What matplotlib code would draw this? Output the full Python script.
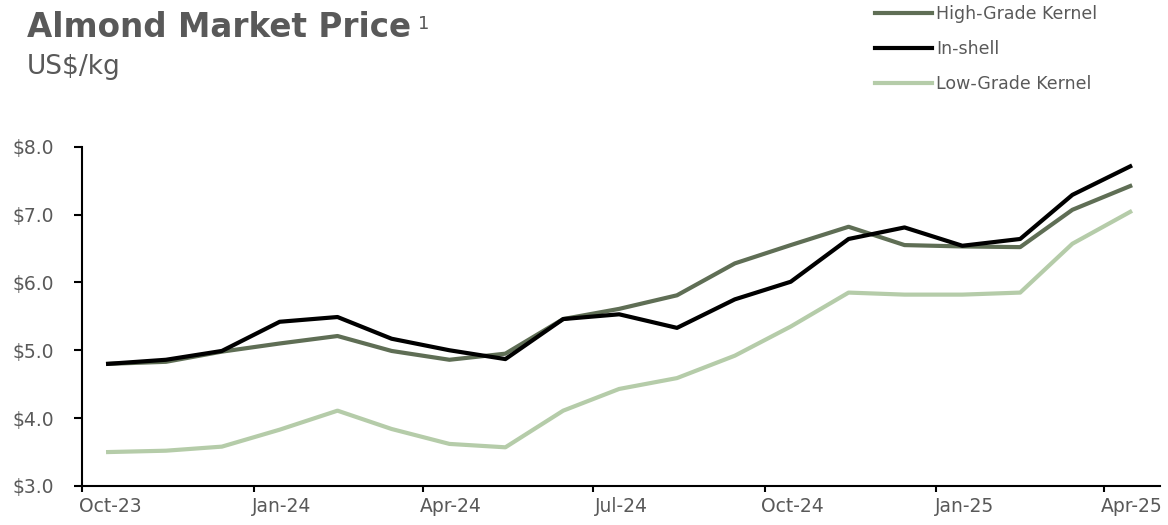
import numpy as np
import pandas as pd
import matplotlib
matplotlib.use("Agg")
import matplotlib.pyplot as plt
import matplotlib.dates as mdates
from matplotlib.ticker import FuncFormatter, NullFormatter

# 数据 (US$/kg), 月度, Oct-23 .. Apr-25
months = pd.date_range("2023-10-01", "2025-04-01", freq="MS") + pd.Timedelta(days=14)

high_grade = [4.80, 4.83, 4.98, 5.10, 5.21, 4.99, 4.86, 4.95, 5.46, 5.61,
              5.81, 6.28, 6.55, 6.82, 6.55, 6.53, 6.52, 7.07, 7.42]
in_shell = [4.80, 4.86, 4.99, 5.42, 5.49, 5.17, 5.00, 4.87, 5.46, 5.53,
            5.33, 5.75, 6.01, 6.64, 6.81, 6.54, 6.64, 7.29, 7.71]
low_grade = [3.50, 3.52, 3.58, 3.83, 4.11, 3.84, 3.62, 3.57, 4.11, 4.43,
             4.59, 4.92, 5.35, 5.85, 5.82, 5.82, 5.85, 6.57, 7.04]

series_names = ["High-Grade Kernel", "In-shell", "Low-Grade Kernel"]
colors = ["#5f6e55", "#000000", "#b5cca9"]

plt.rcParams["font.family"] = ["DejaVu Sans"]
text_grey = "#595959"

fig = plt.figure(figsize=(11.68, 5.25), dpi=100)
ax = fig.add_axes([0.0702, 0.0743, 0.923, 0.6463])

lines = []
for vals, name, c in zip([high_grade, in_shell, low_grade], series_names, colors):
    ln, = ax.plot(months, vals, color=c, lw=3.0, label=name)
    lines.append(ln)

ax.set_ylim(3.0, 8.0)
ax.set_yticks(np.arange(3, 8.01, 1))
ax.yaxis.set_major_formatter(FuncFormatter(lambda v, p: f"${v:.1f}"))
ax.set_xlim(pd.Timestamp("2023-10-01"), pd.Timestamp("2025-05-01"))

# 刻度线在月初, 标签放在月中
ax.xaxis.set_major_locator(mdates.MonthLocator(bymonth=[1, 4, 7, 10]))
ax.xaxis.set_major_formatter(NullFormatter())
ax.xaxis.set_minor_locator(mdates.MonthLocator(bymonth=[1, 4, 7, 10], bymonthday=16))
ax.xaxis.set_minor_formatter(mdates.DateFormatter("%b-%y"))

for s in ["top", "right"]:
    ax.spines[s].set_visible(False)
for s in ["left", "bottom"]:
    ax.spines[s].set_linewidth(1.5)
    ax.spines[s].set_color("black")
ax.tick_params(axis="y", direction="out", length=6, width=1.5, colors="black",
               labelcolor=text_grey, labelsize=13.5, pad=14)
ax.tick_params(axis="x", which="major", direction="out", length=4, width=1.5,
               colors="black")
ax.tick_params(axis="x", which="minor", length=0, labelcolor=text_grey,
               labelsize=13.5, pad=8)

# 标题
fig.text(27 / 1168, 1 - 37 / 525, "Almond Market Price", fontsize=23.5,
         fontweight="bold", color=text_grey, va="baseline")
fig.text(418 / 1168, 1 - 29 / 525, "1", fontsize=13, color=text_grey, va="baseline")
fig.text(27 / 1168, 1 - 74 / 525, "US$/kg", fontsize=19, color=text_grey,
         va="baseline")

# 图例
fig.legend(handles=lines, loc="upper left", bbox_to_anchor=(0.743, 1.004),
           frameon=False, fontsize=12.5, labelcolor=text_grey,
           handlelength=3.3, handletextpad=0.25, labelspacing=0.98,
           borderaxespad=0)

fig.savefig("out.png", dpi=100)
